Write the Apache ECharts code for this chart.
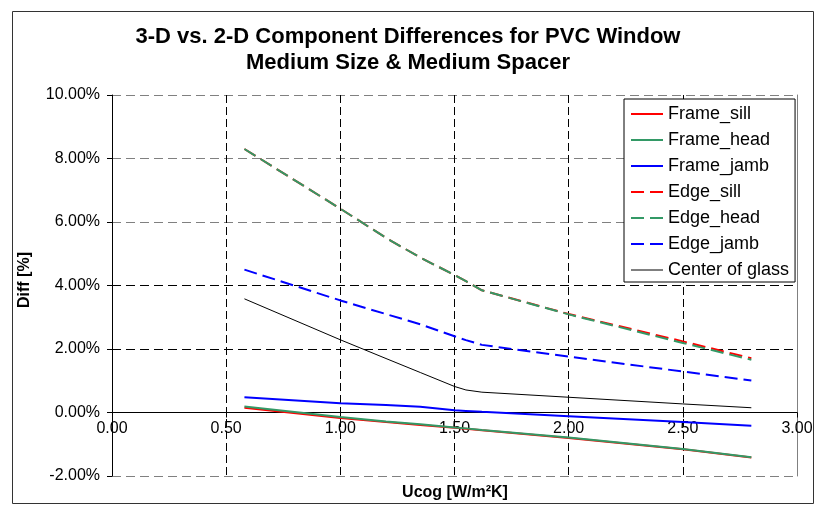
<!DOCTYPE html>
<html>
<head>
<meta charset="utf-8">
<script src="https://cdn.jsdelivr.net/npm/echarts@6/dist/echarts.min.js"></script>
<style>
html,body{margin:0;padding:0;background:#fff;}
#chart{width:816px;height:506px;}
</style>
</head>
<body>
<div id="chart"></div>
<script>
// ---- data ----
const titleLines = ['3-D vs. 2-D Component Differences for PVC Window', 'Medium Size & Medium Spacer'];
const xAxisTitle = 'Ucog [W/m\u00B2K]';
const yAxisTitle = 'Diff [%]';
const xTicks = [0, 0.5, 1.0, 1.5, 2.0, 2.5, 3.0];
const yTicks = [-2, 0, 2, 4, 6, 8, 10];
const seriesNames = ['Frame_sill', 'Frame_head', 'Frame_jamb', 'Edge_sill', 'Edge_head', 'Edge_jamb', 'Center of glass'];
const xValues   = [0.58, 1.0, 1.2, 1.35, 1.5, 1.55, 1.62, 2.0, 2.5, 2.8];
const frameSill = [0.15, -0.17, -0.30, -0.39, -0.48, -0.51, -0.56, -0.80, -1.16, -1.42];
const frameHead = [0.19, -0.14, -0.28, -0.37, -0.47, -0.50, -0.55, -0.79, -1.15, -1.41];
const frameJamb = [0.48, 0.29, 0.24, 0.18, 0.07, 0.05, 0.02, -0.12, -0.30, -0.42];
const edgeSill  = [8.30, 6.42, 5.50, 4.88, 4.33, 4.14, 3.85, 3.10, 2.24, 1.71];
const edgeHead  = [8.30, 6.42, 5.50, 4.88, 4.33, 4.14, 3.85, 3.09, 2.19, 1.66];
const edgeJamb  = [4.50, 3.53, 3.10, 2.78, 2.40, 2.28, 2.13, 1.76, 1.29, 1.01];
const centerGlass = [3.58, 2.29, 1.70, 1.26, 0.82, 0.71, 0.64, 0.48, 0.27, 0.15];

// ---- styles / layout ----
const FONT = '"Liberation Sans", Arial, sans-serif';
const GRID = {left: 112, right: 19, top: 95, bottom: 30};
const CHART_H = 506;
const plotH = CHART_H - GRID.top - GRID.bottom;
const yMin = yTicks[0], yMax = yTicks[yTicks.length - 1];
// move the category axis up so that it crosses the value axis at 0
const xAxisOffset = -((0 - yMin) / (yMax - yMin)) * plotH;

const seriesValues = [frameSill, frameHead, frameJamb, edgeSill, edgeHead, edgeJamb, centerGlass];
const seriesStyles = [
  {color:'#FF0000', width:2, type:'solid'},
  {color:'#339966', width:2, type:'solid'},
  {color:'#0000FF', width:2, type:'solid'},
  {color:'#FF0000', width:2, type:[13,6]},
  {color:'#339966', width:2, type:[13,6]},
  {color:'#0000FF', width:2, type:[13,6]},
  {color:'#000000', width:1, type:'solid'}
];

const series = seriesNames.map((name, k) => ({
  name: name,
  type: 'line',
  symbol: 'none',
  showSymbol: false,
  smooth: false,
  yAxisIndex: 0,
  color: seriesStyles[k].color,
  lineStyle: {color: seriesStyles[k].color, width: seriesStyles[k].width, type: seriesStyles[k].type},
  data: xValues.map((x, i) => [x, seriesValues[k][i]]),
  z: 3 + k
}));

const legendData = seriesNames.map((name, k) => ({
  name: name,
  itemStyle: {opacity: 0},
  lineStyle: {color: seriesStyles[k].color, width: seriesStyles[k].width, type: seriesStyles[k].type, opacity: 1}
}));

const chart = echarts.init(document.getElementById('chart'), null, {renderer: 'canvas'});
chart.setOption({
  animation: false,
  backgroundColor: '#ffffff',
  title: {
    text: titleLines.join('\n'),
    left: 'center',
    top: 19,
    textStyle: {fontFamily: FONT, fontSize: 22, fontWeight: 'bold', color: '#000', lineHeight: 26}
  },
  grid: {left: GRID.left, right: GRID.right, top: GRID.top, bottom: GRID.bottom, containLabel: false},
  legend: {
    orient: 'vertical',
    left: 624,
    top: 99,
    padding: [6, 6, 3, 6],
    itemGap: 8,
    itemWidth: 32,
    itemHeight: 14,
    backgroundColor: '#ffffff',
    borderColor: '#000000',
    borderWidth: 1,
    borderRadius: 0,
    itemStyle: {opacity: 0},
    textStyle: {fontFamily: FONT, fontSize: 18, color: '#000'},
    data: legendData
  },
  xAxis: {
    type: 'value',
    position: 'bottom',
    offset: xAxisOffset,
    min: xTicks[0],
    max: xTicks[xTicks.length - 1],
    interval: 0.5,
    axisLine: {show: true, onZero: false, lineStyle: {color: '#000', width: 1}},
    axisTick: {show: true, inside: false, length: 5, lineStyle: {color: '#000'}},
    axisLabel: {fontFamily: FONT, fontSize: 16, color: '#000', margin: 8,
      formatter: v => v.toFixed(2)},
    splitLine: {show: true, lineStyle: {color: '#000', width: 1, type: [8, 4]}}
  },
  yAxis: [{
    type: 'value',
    min: yMin,
    max: yMax,
    interval: 2,
    axisLine: {show: true, onZero: false, lineStyle: {color: '#000', width: 1}},
    axisTick: {show: true, inside: false, length: 5, lineStyle: {color: '#000'}},
    axisLabel: {fontFamily: FONT, fontSize: 16, color: '#000', margin: 12,
      formatter: v => v.toFixed(2) + '%'},
    splitLine: {show: true, lineStyle: {color: ['#808080', '#000', '#000', '#000', '#808080', '#808080', '#808080'], width: 1, type: [9, 5]}}
  }, {
    type: 'value',
    position: 'right',
    min: yMin,
    max: yMax,
    interval: 2,
    axisLine: {show: true, onZero: false, lineStyle: {color: '#808080', width: 1}},
    axisTick: {show: false},
    axisLabel: {show: false},
    splitLine: {show: false}
  }],
  graphic: [
    {type: 'rect', left: 10, top: 9, shape: {width: 801, height: 492}, style: {fill: 'none', stroke: '#333', lineWidth: 1}, z: -1, silent: true},
    {type: 'text', x: 25, y: 280, rotation: Math.PI / 2,
      style: {text: yAxisTitle, fontFamily: FONT, fontSize: 16, fontWeight: 'bold', fill: '#000', align: 'center', verticalAlign: 'middle'}},
    {type: 'text', x: 455, y: 493,
      style: {text: xAxisTitle, fontFamily: FONT, fontSize: 16, fontWeight: 'bold', fill: '#000', align: 'center', verticalAlign: 'middle'}}
  ],
  series: series
});
</script>
</body>
</html>
